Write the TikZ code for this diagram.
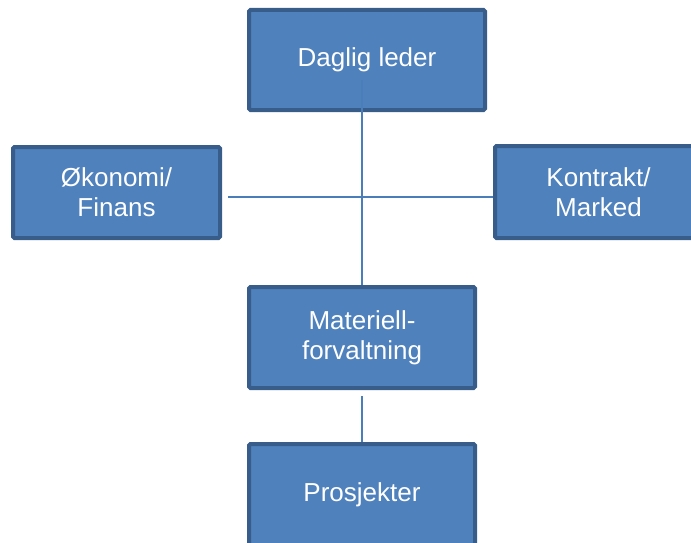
\documentclass[tikz,border=0pt]{standalone}
\usepackage{fontspec}
\setmainfont{Liberation Sans}
\definecolor{boxfill}{HTML}{4F81BD}
\definecolor{boxborder}{HTML}{385D8A}
\definecolor{connclr}{HTML}{4A7EBB}
\begin{document}
\begin{tikzpicture}[x=1pt,y=-1pt,
  orgbox/.style={draw=boxborder, fill=boxfill, line width=4pt, rounded corners=1.5pt,
    text=white, align=center, inner sep=0pt,
    font=\fontsize{26pt}{30pt}\selectfont},
  conn/.style={draw=connclr, line width=1.5pt}]
\useasboundingbox (0,0) rectangle (691,543);
\node[orgbox, minimum width=236pt, minimum height=100pt] (dl) at (367,60) {Daglig leder};
\node[orgbox, minimum width=207pt, minimum height=91pt] (oko) at (116.5,192.5) {Økonomi/\\Finans};
\node[orgbox, minimum width=207pt, minimum height=92pt] (kon) at (598.5,192) {Kontrakt/\\Marked};
\node[orgbox, minimum width=226pt, minimum height=101pt] (mat) at (362,337.5) {Materiell-\\forvaltning};
\node[orgbox, minimum width=226pt, minimum height=101pt] (prj) at (362,494.5) {Prosjekter};
\coordinate (vtop) at (362,80);
\coordinate (hleft) at (228,197);
\coordinate (btop) at (362,396);
\draw[conn] (vtop) -- (mat.north);
\draw[conn] (hleft) -- (hleft -| kon.west);
\draw[conn] (btop) -- (prj.north);
\end{tikzpicture}
\end{document}
